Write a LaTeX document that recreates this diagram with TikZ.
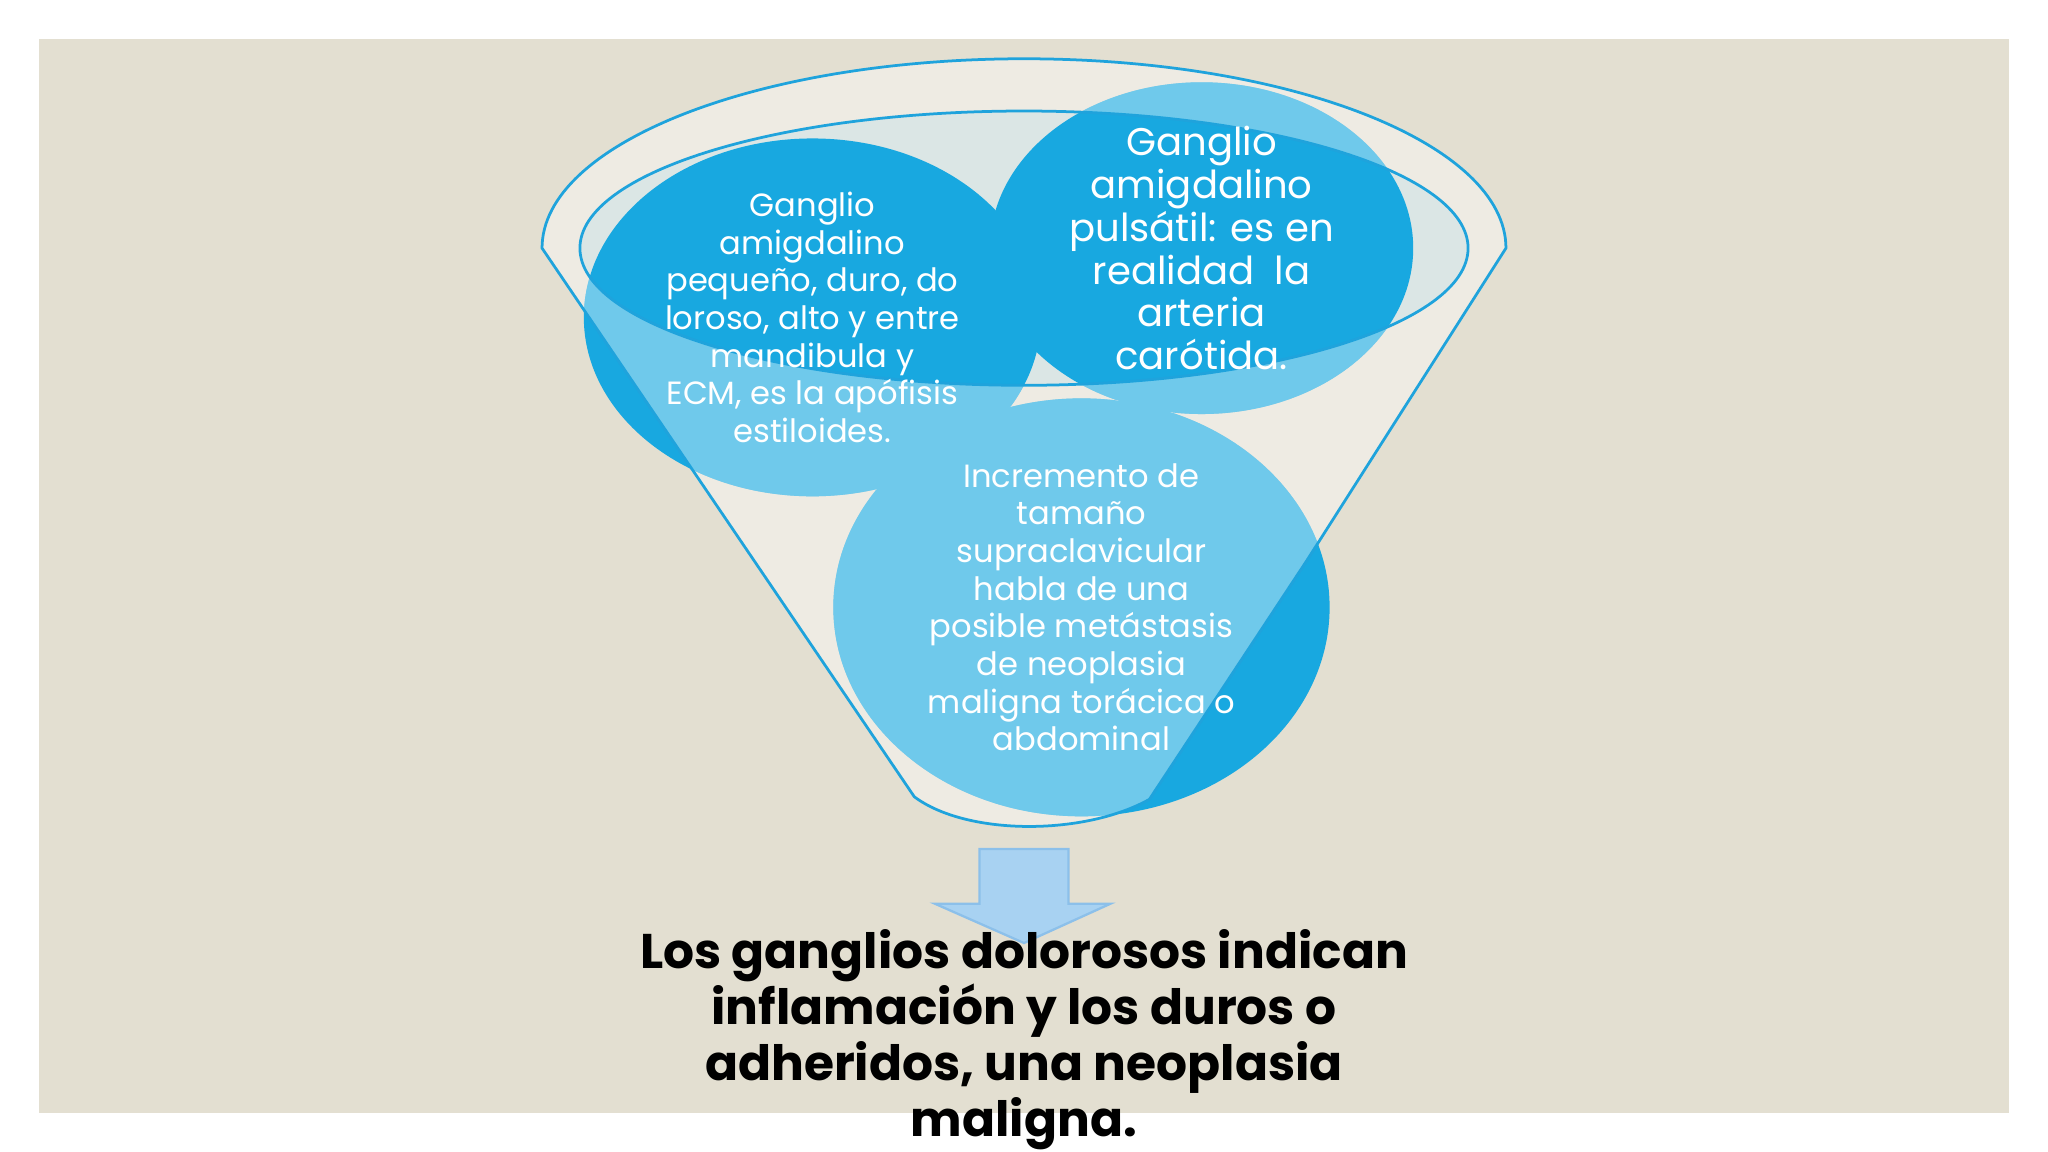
\documentclass[tikz,border=0pt]{standalone}
\usepackage{fontspec}
\setmainfont{Poppins}
\begin{document}
\begin{tikzpicture}[x=0.01cm,y=-0.01cm,
  circtext/.style={text=white,font=\fontsize{7}{8.2}\selectfont,align=center}]
\definecolor{bg}{HTML}{E3DFD1}
\definecolor{cream}{HTML}{EEEBE3}
\definecolor{dblue}{HTML}{18A8E0}
\definecolor{lblue}{HTML}{6CCBEE}
\definecolor{fline}{HTML}{1FA3DC}
\definecolor{arrfill}{HTML}{A8D2F2}
\definecolor{arrline}{HTML}{8CC0EA}
\useasboundingbox (0,0) rectangle (1568,882);
\fill[white] (0,0) rectangle (1568,882);
\fill[bg] (30,30) rectangle (1538,852);
% funnel body
\def\funnel{(415,190) arc[start angle=180,end angle=360,x radius=369,y radius=145] -- (1000,430) -- (880,612) .. controls (830,640) and (740,640) .. (700,610) -- cycle}
\fill[cream] \funnel;
\fill[cream!85!lblue] (784,190) ellipse[x radius=340,y radius=105];
% circles
\fill[dblue] (622,243) ellipse[x radius=175,y radius=137];
\fill[dblue] (920,190) ellipse[x radius=162,y radius=127];
\fill[dblue] (828,465) ellipse[x radius=190,y radius=160];
% translucent front of funnel
\begin{scope}
\clip (828,465) ellipse[x radius=190,y radius=160] (622,243) ellipse[x radius=175,y radius=137] (920,190) ellipse[x radius=162,y radius=127];
\fill[white,opacity=0.38,even odd rule] \funnel (784,190) ellipse[x radius=340,y radius=105];
\end{scope}
\draw[fline,line width=0.6pt] \funnel;
\draw[fline,line width=0.6pt] (784,190) ellipse[x radius=340,y radius=105];
% texts
\node[circtext] (c1) at (622,243) {Ganglio\\amigdalino\\pequeño, duro, do\\loroso, alto y entre\\mandibula y\\ECM, es la apófisis\\estiloides.};
\node[circtext,font=\fontsize{8.4}{9.3}\selectfont] (c2) at (920,190) {Ganglio\\amigdalino\\pulsátil: es en\\realidad\ \ la\\arteria\\carótida.};
\node[circtext] (c3) at (828,465) {Incremento de\\tamaño\\supraclavicular\\habla de una\\posible metástasis\\de neoplasia\\maligna torácica o\\abdominal};
% arrow
\draw[fill=arrfill,draw=arrline,line width=0.5pt]
  (750,650) -- (818,650) -- (818,692) -- (850,692) -- (784,722) -- (716,692) -- (750,692) -- cycle;
\node[font=\bfseries\fontsize{10.6}{12.2}\selectfont,align=center,text=black] (t) at (784,796) {Los ganglios dolorosos indican\\inflamación y los duros o\\adheridos, una neoplasia\\maligna.};
\end{tikzpicture}
\end{document}
